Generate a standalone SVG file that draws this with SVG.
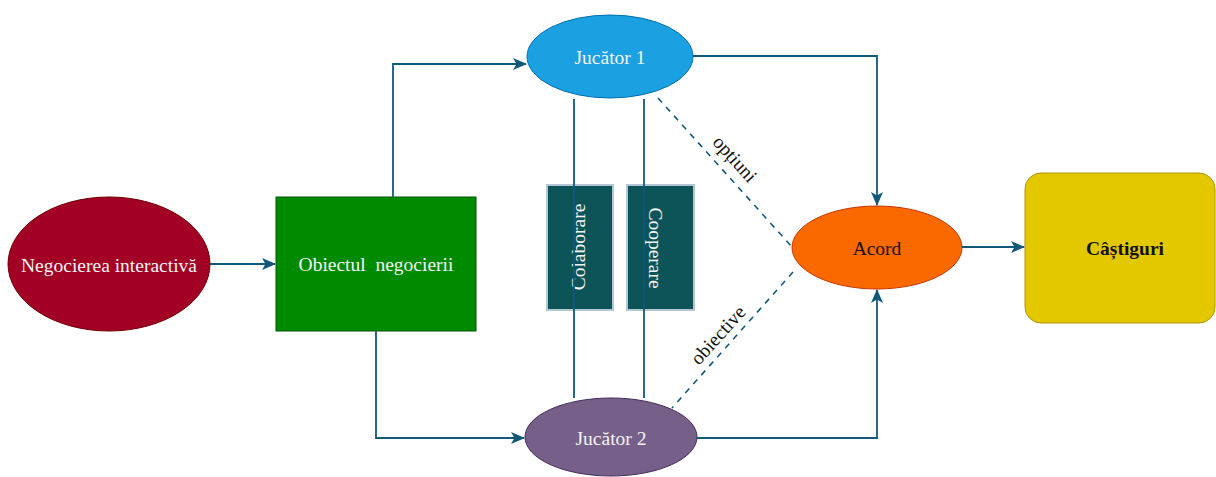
<svg xmlns="http://www.w3.org/2000/svg" width="1216" height="477" viewBox="0 0 1216 477">
  <defs>
    <marker id="arrow" viewBox="0 0 14 12" refX="13" refY="6" markerWidth="14" markerHeight="12" markerUnits="userSpaceOnUse" orient="auto">
      <path d="M0,0 L14,6 L0,12 L3.5,6 Z" fill="#10597A"/>
    </marker>
    <style>
      text { font-family: "Liberation Serif", "Times New Roman", serif; font-size: 19.5px; text-anchor: middle; dominant-baseline: central; }
      .light { fill: #F4F4F4; }
      .dark { fill: #111111; }
      .edge { fill: none; stroke: #10597A; stroke-width: 1.8; }
      .dash { fill: none; stroke: #10597A; stroke-width: 1.6; stroke-dasharray: 6 6; }
      .band { fill: #0D5458; stroke: #B4C6D4; stroke-width: 2; }
    </style>
  </defs>
  <rect width="1216" height="477" fill="#FFFFFF"/>

  <g id="negocierea">
    <ellipse cx="109" cy="264" rx="101" ry="67" fill="#A20025" stroke="#6F0000" stroke-width="1"/>
    <text x="109" y="265" class="light" font-size="20px">Negocierea interactivă</text>
  </g>

  <g id="obiectul">
    <rect x="276" y="197" width="200" height="134" fill="#008A00" stroke="#005700" stroke-width="1"/>
    <text x="376" y="264" class="light" style="white-space:pre" xml:space="preserve">Obiectul  negocierii</text>
  </g>

  <g id="jucator1">
    <ellipse cx="610" cy="56.5" rx="83" ry="41.5" fill="#1BA1E2" stroke="#006EAF" stroke-width="1"/>
    <text x="610" y="57" class="light">Jucător 1</text>
  </g>

  <g id="jucator2">
    <ellipse cx="611" cy="437" rx="86" ry="39" fill="#76608A" stroke="#432D57" stroke-width="1"/>
    <text x="611" y="438" class="light">Jucător 2</text>
  </g>

  <g id="colaborare">
    <rect x="547" y="185" width="66" height="125" class="band"/>
    <text transform="translate(578,247) rotate(-90)" class="light">Colaborare</text>
  </g>

  <g id="cooperare">
    <rect x="627" y="185" width="67" height="125" class="band"/>
    <text transform="translate(655,248) rotate(90)" class="light">Cooperare</text>
  </g>

  <g id="acord">
    <ellipse cx="877" cy="247.5" rx="85" ry="41.5" fill="#FA6800" stroke="#C73500" stroke-width="1"/>
    <text x="877" y="248" class="dark">Acord</text>
  </g>

  <g id="castiguri">
    <rect x="1025" y="173" width="190" height="150" rx="16" ry="16" fill="#E3C800" stroke="#B09500" stroke-width="1"/>
    <text x="1125" y="248" class="dark" font-weight="bold">Câștiguri</text>
  </g>

  <g id="connectors">
    <path d="M210,264 L275,264" class="edge" marker-end="url(#arrow)"/>
    <path d="M393,197 L393,64 L526,64" class="edge" marker-end="url(#arrow)"/>
    <path d="M376,331 L376,438 L524,438" class="edge" marker-end="url(#arrow)"/>
    <path d="M693,56 L877,56 L877,205" class="edge" marker-end="url(#arrow)"/>
    <path d="M697,438 L877,438 L877,290" class="edge" marker-end="url(#arrow)"/>
    <path d="M962,247 L1024,247" class="edge" marker-end="url(#arrow)"/>
    <path d="M574,99 L574,398" class="edge"/>
    <path d="M644,99 L644,398" class="edge"/>
    <path d="M658,98 L792,247" class="dash"/>
    <path d="M793,272 L672,408" class="dash"/>
    <text transform="translate(735,159) rotate(48)" class="dark" font-size="18px">opțiuni</text>
    <text transform="translate(718,335) rotate(-48)" class="dark" font-size="18px">obiective</text>
  </g>
</svg>
